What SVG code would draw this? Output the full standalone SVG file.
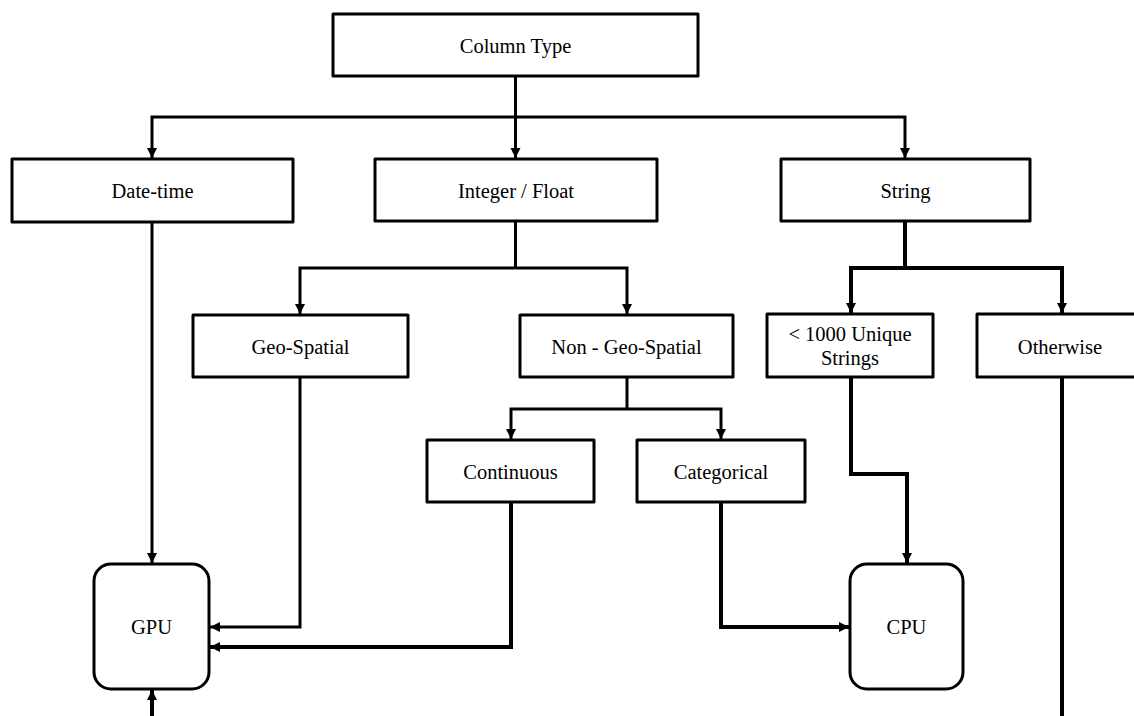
<svg xmlns="http://www.w3.org/2000/svg" width="1134" height="716" viewBox="0 0 1134 716">
<style>
.box{fill:#fff;stroke:#000;stroke-width:3;stroke-linejoin:round}
.t{font-family:"Liberation Serif","Times New Roman",serif;font-size:20.5px;fill:#000;text-anchor:middle}
.c{fill:none;stroke:#000;stroke-width:3;stroke-linejoin:miter}
.k{stroke-width:4}
.a{marker-end:url(#ah)}
</style>
<defs>
<marker id="ah" markerUnits="userSpaceOnUse" markerWidth="12" markerHeight="12" refX="10" refY="5" orient="auto">
<path d="M0,0 L10,5 L0,10 z" fill="#000"/>
</marker>
</defs>
<rect width="1134" height="716" fill="#fff"/>
<g id="connectors">
<path class="c" d="M515.5,76 V117"/>
<path class="c a" d="M515.5,117 V158"/>
<path class="c a" d="M515.5,117 H152 V158"/>
<path class="c a" d="M515.5,117 H905 V158"/>
<path class="c" d="M515.5,221 V268"/>
<path class="c a" d="M515.5,268 H300 V314"/>
<path class="c a" d="M515.5,268 H627 V314"/>
<path class="c" d="M627,377 V409"/>
<path class="c a" d="M627,409 H511 V439"/>
<path class="c a" d="M627,409 H721 V439"/>
<path class="c k" d="M905,221 V268"/>
<path class="c k a" d="M905,268 H851 V313"/>
<path class="c k a" d="M905,268 H1062 V313"/>
<path class="c a" d="M152,222 V563"/>
<path class="c a" d="M300,377 V627 H210"/>
<path class="c k a" d="M511,502 V647 H210"/>
<path class="c k a" d="M721,502 V627 H849"/>
<path class="c k a" d="M851,377 V474 H907 V563"/>
<path class="c k" d="M1062,377 V716"/>
<path class="c k a" d="M152,716 V690"/>
</g>
<g id="column-type"><rect class="box" x="333" y="14" width="365" height="62"/><text class="t" x="515.5" y="53">Column Type</text></g>
<g id="date-time"><rect class="box" x="12" y="159" width="281" height="63"/><text class="t" x="152.5" y="198">Date-time</text></g>
<g id="integer-float"><rect class="box" x="375" y="159" width="282" height="62"/><text class="t" x="516" y="198">Integer / Float</text></g>
<g id="string"><rect class="box" x="781" y="159" width="249" height="62"/><text class="t" x="905.5" y="198">String</text></g>
<g id="geo-spatial"><rect class="box" x="193" y="315" width="215" height="62"/><text class="t" x="300.5" y="354">Geo-Spatial</text></g>
<g id="non-geo-spatial"><rect class="box" x="520" y="315" width="213" height="62"/><text class="t" x="626.5" y="354">Non - Geo-Spatial</text></g>
<g id="unique-strings"><rect class="box" x="767" y="314" width="166" height="63"/><text class="t" x="850" y="341">&lt; 1000 Unique</text><text class="t" x="850" y="365">Strings</text></g>
<g id="otherwise"><rect class="box" x="977" y="314" width="166" height="63"/><text class="t" x="1060" y="354">Otherwise</text></g>
<g id="continuous"><rect class="box" x="427" y="440" width="167" height="62"/><text class="t" x="510.5" y="479">Continuous</text></g>
<g id="categorical"><rect class="box" x="637" y="440" width="168" height="62"/><text class="t" x="721" y="479">Categorical</text></g>
<g id="gpu"><rect class="box" x="94" y="564" width="115" height="125" rx="17"/><text class="t" x="151.5" y="634">GPU</text></g>
<g id="cpu"><rect class="box" x="850" y="564" width="113" height="125" rx="17"/><text class="t" x="906.5" y="634">CPU</text></g>
</svg>
